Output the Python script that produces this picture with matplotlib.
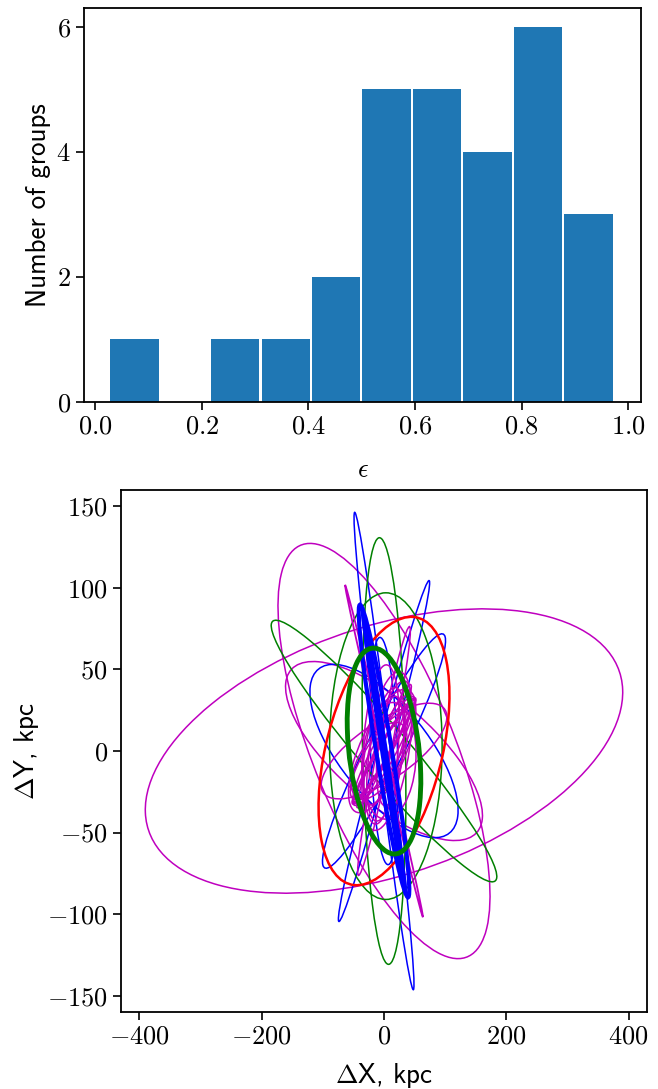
import numpy as np
import matplotlib
matplotlib.use('Agg')
import matplotlib.pyplot as plt
from matplotlib.patches import Ellipse

plt.rcParams['font.family'] = 'serif'
plt.rcParams['font.serif'] = ['cmr10']
plt.rcParams['mathtext.fontset'] = 'cm'
plt.rcParams['axes.formatter.use_mathtext'] = True
plt.rcParams['axes.linewidth'] = 1.3
plt.rcParams['xtick.major.size'] = 6
plt.rcParams['ytick.major.size'] = 6
plt.rcParams['xtick.major.width'] = 1.2
plt.rcParams['ytick.major.width'] = 1.2

# histogram of eccentricities
eps_lo, eps_hi = 0.026, 0.973
counts = [1, 0, 1, 1, 2, 5, 5, 4, 6, 3]

# orbit ellipses in the (dX, dY) plane, kpc
# centre x, centre y, semi-major, semi-minor, angle (deg), colour, width
orb_cx  = [0, 0, 0, 0,   0, 0, 0, 0, 0,   0, 0,   0, 3, 0, 0,   0,
           0, 5, -5, 3, 8, -8, 0, 10, -3, 0, 0, 0, 5, -5, 8]
orb_cy  = [0, 0, 0, 0,   0, 0, 0, 0, 0,   0, 0,   0, 3, 0, 0,   0,
           0, 5, -3, -2, 8, -6, 3, 0, 0, 0, 0, 0, 0, 4, -6]
orb_a   = [392, 200, 166, 120, 154, 128, 122, 127, 70, 98, 92, 131, 92, 200, 70, 116,
           60, 50, 55, 45, 40, 48, 58, 35, 62, 60, 87, 105, 55, 50, 45]
orb_b   = [79, 79, 37, 3, 10, 10, 20, 37, 22, 12, 3, 35, 94, 21, 52, 69,
           12, 20, 15, 25, 10, 18, 8, 20, 25, 6, 10, 20, 32, 28, 35]
orb_ang = [5.5, -32.9, -14.5, 122, 108.2, 54.6, 35, -18.3, 96, 114, 112, 93.5, 0, -22.9, -49.8, 28.7,
           32, 45, 25, 60, 38, 20, 40, 70, 30, 32, 61, 12, 55, 75, 15]
orb_col = ['m', 'm', 'm', 'm', 'b', 'b', 'b', 'b', 'b', 'b', 'b', 'g', 'g', 'g', 'g', 'r',
           'm', 'm', 'm', 'm', 'm', 'm', 'm', 'm', 'm', 'm', 'm', 'm', 'm', 'm', 'm']
orb_lw  = [1.1, 1.1, 1.1, 1.3, 1.1, 1.1, 1.1, 1.1, 1.1, 3.0, 2.8, 1.1, 1.1, 1.1, 3.5, 1.8,
           1.1, 1.1, 1.1, 1.1, 1.1, 1.1, 1.1, 1.1, 1.1, 2.2, 1.1, 1.1, 1.1, 1.1, 1.1]

fig = plt.figure(figsize=(6.58, 10.89), dpi=100)
ax1 = fig.add_axes([0.1277, 0.6309, 0.8465, 0.3618])
ax2 = fig.add_axes([0.1839, 0.0707, 0.7994, 0.4793])

edges = np.linspace(eps_lo, eps_hi, len(counts) + 1)
ax1.hist(edges[:-1], bins=edges, weights=counts, rwidth=0.96, color='#1f77b4')
ax1.set_xlim(-0.021, 1.024)
ax1.set_ylim(0, 6.3)
ax1.set_yticks([0, 2, 4, 6])
ax1.tick_params(labelsize=19)
ax1.set_xlabel(r'$\epsilon$', fontsize=19, labelpad=14)
ax1.set_ylabel('Number of groups', fontsize=19.5, family='cmss10')

order = sorted(range(len(orb_a)), key=lambda i: orb_lw[i])
for i in order:
    e = Ellipse((orb_cx[i], orb_cy[i]), 2 * orb_a[i], 2 * orb_b[i], angle=orb_ang[i],
                fill=False, ec=orb_col[i], lw=orb_lw[i])
    ax2.add_patch(e)
ax2.set_xlim(-430, 430)
ax2.set_ylim(-160, 160)
ax2.set_xticks([-400, -200, 0, 200, 400])
ax2.set_yticks([-150, -100, -50, 0, 50, 100, 150])
ax2.tick_params(labelsize=19)
ax2.set_xlabel(r'$\Delta$X, kpc', fontsize=19.5, family='cmss10', labelpad=9)
ax2.set_ylabel(r'$\Delta$Y, kpc', fontsize=19.5, family='cmss10')

fig.savefig('out.png', dpi=100)
